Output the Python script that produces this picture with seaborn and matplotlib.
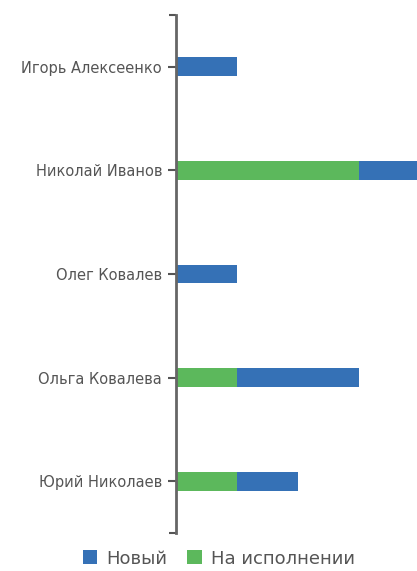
import matplotlib
matplotlib.use('Agg')
import matplotlib.pyplot as plt
import seaborn as sns
import numpy as np
import pandas as pd

# data
people = ['Игорь Алексеенко', 'Николай Иванов', 'Олег Ковалев',
          'Ольга Ковалева', 'Юрий Николаев']
new_tasks = [1, 1, 1, 2, 1]          # Новый
in_progress = [0, 3, 0, 1, 1]        # На исполнении

blue = '#3571b6'
green = '#5cb85c'

sns.set_theme(style='white')
plt.rcParams['font.family'] = ['DejaVu Sans']

df = pd.DataFrame({'person': people, 'new': new_tasks, 'work': in_progress})
df['total'] = df['new'] + df['work']

fig = plt.figure(figsize=(4.17, 5.71), dpi=100)
ax = fig.add_axes([0.422, 0.066, 0.578, 0.908])

# stacked: total in blue, then green part drawn over the left side
sns.barplot(data=df, x='total', y='person', orient='h', color=blue,
            width=0.18, ax=ax, label='Новый', saturation=1, linewidth=0)
sns.barplot(data=df, x='work', y='person', orient='h', color=green,
            width=0.18, ax=ax, label='На исполнении', saturation=1, linewidth=0)

ax.set_xlim(0, 3.96)
ax.set_ylim(4.5, -0.5)
ax.set_xlabel('')
ax.set_ylabel('')
ax.set_xticks([])

for side in ['top', 'right', 'bottom']:
    ax.spines[side].set_visible(False)
ax.spines['left'].set_color('#666666')
ax.spines['left'].set_linewidth(2)

ax.tick_params(axis='y', which='major', left=True, length=6, width=1.5,
               color='#555555', labelsize=10.5, labelcolor='#555555', pad=4)
ax.set_yticks([-0.5, 4.5], minor=True)
ax.tick_params(axis='y', which='minor', left=True, length=5, width=1.5,
               color='#555555')

ax.legend(loc='upper center', bbox_to_anchor=(0.525, 0.066),
          bbox_transform=fig.transFigure, ncol=2, frameon=False,
          handlelength=0.8, handleheight=0.8, handletextpad=0.5,
          columnspacing=1.1, fontsize=13, labelcolor='#555555')

fig.savefig('out.png', dpi=100)
